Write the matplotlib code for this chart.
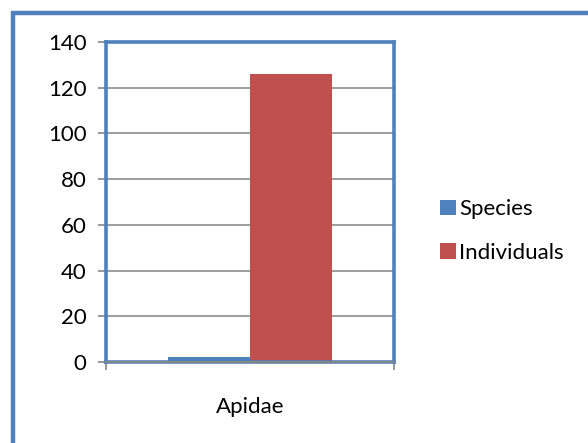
import matplotlib
matplotlib.use("Agg")
import matplotlib.pyplot as plt
from matplotlib.patches import Rectangle, Patch
import numpy as np

categories = ["Apidae"]
series_names = ["Species", "Individuals"]
species = [2]
individuals = [126]
y_ticks = [0, 20, 40, 60, 80, 100, 120, 140]

blue = "#4F81BD"
red = "#C0504D"
grid_gray = "#8C8C8C"
axis_gray = "#868686"

plt.rcParams["font.family"] = ["Lato", "DejaVu Sans"]
FS = 16

W, H = 588, 443
fig = plt.figure(figsize=(W / 100, H / 100), dpi=100)
fig.patch.set_facecolor("white")

# outer chart-area frame (runs off the right and bottom edges)
fig.patches.append(Rectangle((13 / W, -0.05), 1.2, 1 - 13 / H + 0.05,
                             transform=fig.transFigure, fill=False,
                             edgecolor=blue, linewidth=3.2, zorder=0))

ax = fig.add_axes([106 / W, 1 - 362 / H, 288 / W, 320 / H])
x = np.arange(len(categories))
bw = 0.283
ax.bar(x - bw / 2, species, width=bw, color=blue, zorder=3, label=series_names[0])
ax.bar(x + bw / 2, individuals, width=bw, color=red, zorder=3, label=series_names[1])

ax.set_xlim(-0.5, 0.5)
ax.set_ylim(0, 140)
ax.set_yticks(y_ticks)
ax.set_yticklabels([str(v) for v in y_ticks], fontsize=FS)
ax.yaxis.grid(True, color=grid_gray, linewidth=1.2, zorder=1)
ax.set_axisbelow(True)

ax.set_xticks([-0.5, 0.5])
ax.set_xticklabels(["", ""])
ax.tick_params(axis="both", direction="out", color=axis_gray, length=6, width=1.2)
ax.tick_params(axis="y", pad=8)
ax.text(0, -0.11, categories[0], transform=ax.get_xaxis_transform(),
        ha="center", va="top", fontsize=FS)

for s in ax.spines.values():
    s.set_color(blue)
    s.set_linewidth(2.6)
    s.set_zorder(4)
ax.axhline(0, color=axis_gray, linewidth=1.4, zorder=5, clip_on=False)

handles = [Patch(facecolor=blue, label=series_names[0]),
           Patch(facecolor=red, label=series_names[1])]
fig.legend(handles=handles, loc="center left", bbox_to_anchor=(420 / W, 1 - 231 / H),
           frameon=False, fontsize=FS, handlelength=0.7, handleheight=0.7,
           handletextpad=0.15, labelspacing=1.05)

fig.savefig("out.png", dpi=100)
